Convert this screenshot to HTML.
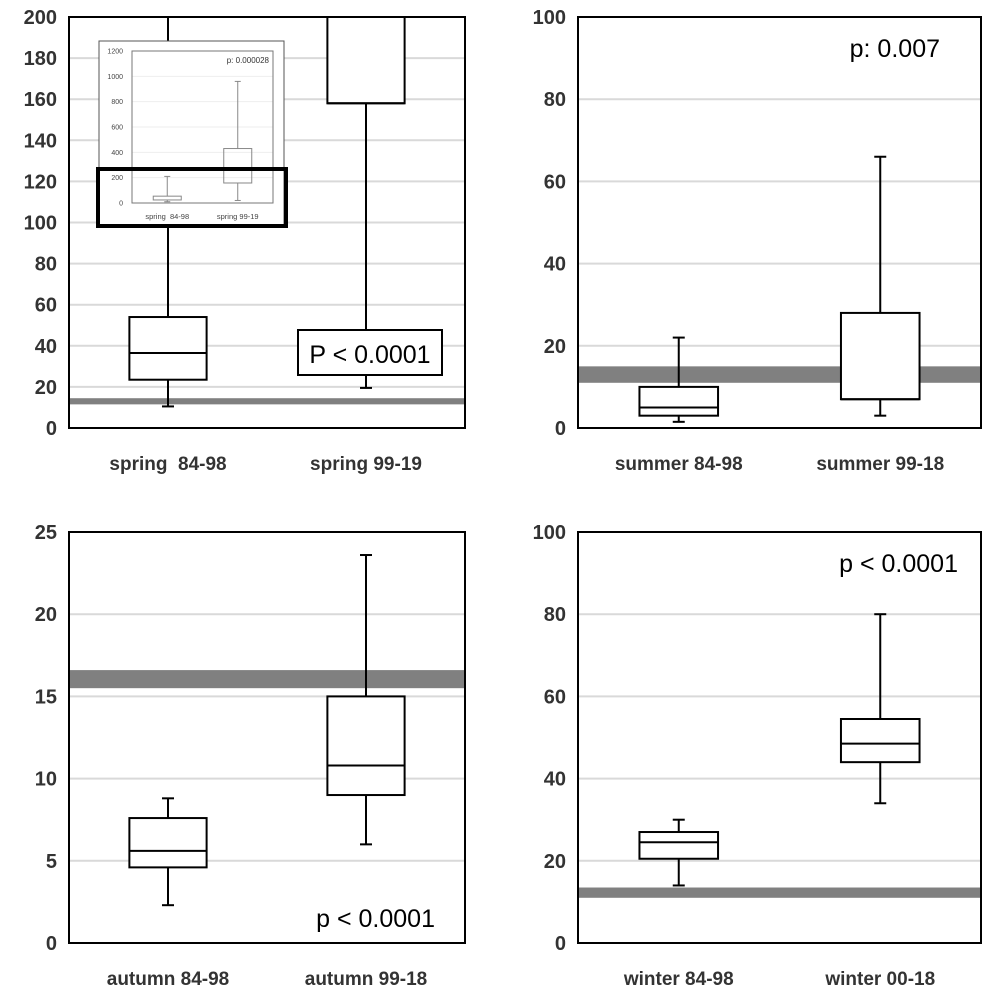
<!DOCTYPE html>
<html><head><meta charset="utf-8"><style>
body{margin:0;background:#fff;}
svg{display:block;font-family:"Liberation Sans",sans-serif;}
</style></head><body>
<svg id="c" width="994" height="994"></svg>
<script>
const panelNames=["spring-panel","summer-panel","autumn-panel","winter-panel"];
const panelCategories=[["spring\u00a0\u00a084-98","spring 99-19"],["summer 84-98","summer 99-18"],["autumn 84-98","autumn 99-18"],["winter 84-98","winter 00-18"]];
const panelMax=[200,100,25,100];
const panelStep=[20,20,5,20];
const mins=[[10.5,19.5],[1.5,3],[2.3,6],[14,34]];
const q1s=[[23.5,158],[3,7],[4.6,9],[20.5,44]];
const medians=[[36.5,158],[5,7],[5.6,10.8],[24.5,48.5]];
const q3s=[[54,260],[10,28],[7.6,15],[27,54.5]];
const maxs=[[260,260],[22,66],[8.8,23.6],[30,80]];
const bandLow=[11.5,11,15.5,11];
const bandHigh=[14.5,15,16.6,13.5];
const pLabels=["P < 0.0001","p: 0.007","p < 0.0001","p < 0.0001"];
const insetCats=["spring\u00a0\u00a084-98","spring 99-19"];
const insetTicks=[0,200,400,600,800,1000,1200];
const insetMin=[10,20],insetQ1=[24,158],insetMed=[37,158],insetQ3=[54,430],insetMax=[210,960];

const svg=document.getElementById('c');
const NS="http://www.w3.org/2000/svg";
function mk(tag,attrs,parent){const e=document.createElementNS(NS,tag);for(const k in attrs)e.setAttribute(k,attrs[k]);(parent||svg).appendChild(e);return e;}
const frames=[[69,465,17,428],[578,981,17,428],[69,465,532,943],[578,981,532,943]];
const pPos=[[370,354,"middle"],[940,48,"end"],[435,918,"end"],[958,563,"end"]];
for(let p=0;p<4;p++){
  const [x0,x1,y0,y1]=frames[p];
  const g=mk('g',{});
  
  
  const y=v=>y1-(Math.min(v,panelMax[p])/panelMax[p])*(y1-y0);
  const cw=(x1-x0)/2;
  const cx=i=>x0+cw*(i+0.5);
  for(let t=0;t<=panelMax[p];t+=panelStep[p]){
    if(t>0&&t<panelMax[p]){const l=mk('line',{x1:x0,x2:x1,y1:y(t),y2:y(t),stroke:'#d9d9d9','stroke-width':2},g);}
    const tx=mk('text',{x:x0-12,y:y(t)+7,'text-anchor':'end','font-size':20,'font-weight':'bold',fill:'#333'},g);
    tx.textContent=t;
  }
  const band=mk('rect',{x:x0,y:y(bandHigh[p]),width:x1-x0,height:y(bandLow[p])-y(bandHigh[p]),fill:'#808080'},g);
  
  for(let i=0;i<2;i++){
    const c=cx(i),bw=cw*0.39;
    const bg=mk('g',{stroke:'#000','stroke-width':2,fill:'none'},g);
    
    mk('line',{x1:c,x2:c,y1:y(maxs[p][i]),y2:y(q3s[p][i])},bg);
    mk('line',{x1:c,x2:c,y1:y(q1s[p][i]),y2:y(mins[p][i])},bg);
    mk('line',{x1:c-6,x2:c+6,y1:y(mins[p][i]),y2:y(mins[p][i])},bg);
    if(maxs[p][i]<panelMax[p])mk('line',{x1:c-6,x2:c+6,y1:y(maxs[p][i]),y2:y(maxs[p][i])},bg);
    mk('rect',{x:c-bw/2,y:y(q3s[p][i]),width:bw,height:y(q1s[p][i])-y(q3s[p][i]),fill:'#fff'},bg);
    mk('line',{x1:c-bw/2,x2:c+bw/2,y1:y(medians[p][i]),y2:y(medians[p][i])},bg);
    const lb=mk('text',{x:c,y:y1+42,'text-anchor':'middle','font-size':19,'font-weight':'bold',fill:'#333'},g);
    lb.textContent=panelCategories[p][i];
  }
  const fr=mk('rect',{x:x0,y:y0,width:x1-x0,height:y1-y0,fill:'none',stroke:'#000','stroke-width':2},g);
  
  if(p===0){const pb=mk('rect',{x:298,y:330,width:144,height:45,fill:'#fff',stroke:'#000','stroke-width':2},g);}
  const pt=mk('text',{x:pPos[p][0],y:pPos[p][1]+9,'text-anchor':pPos[p][2],'font-size':25,fill:'#000'},g);
  pt.textContent=pLabels[p];
}
// inset
const ig=mk('g',{});

mk('rect',{x:99,y:41,width:185,height:186,fill:'#fff',stroke:'#555','stroke-width':1},ig);
const ix0=132,ix1=273,iy0=51,iy1=203;
const iy=v=>iy1-v/1200*(iy1-iy0);
for(const t of insetTicks){
  if(t>0&&t<1200)mk('line',{x1:ix0,x2:ix1,y1:iy(t),y2:iy(t),stroke:'#eee','stroke-width':1},ig);
  const tt=mk('text',{x:ix0-9,y:iy(t)+2.5,'text-anchor':'end','font-size':7,fill:'#444'},ig);
  tt.textContent=t;
}
mk('rect',{x:ix0,y:iy0,width:ix1-ix0,height:iy1-iy0,fill:'none',stroke:'#777','stroke-width':1},ig);
for(let i=0;i<2;i++){
  const c=ix0+(ix1-ix0)/4*(1+2*i),bw=28;
  const s={stroke:'#888','stroke-width':1,fill:'none'};
  mk('line',Object.assign({x1:c,x2:c,y1:iy(insetMax[i]),y2:iy(insetQ3[i])},s),ig);
  mk('line',Object.assign({x1:c,x2:c,y1:iy(insetQ1[i]),y2:iy(insetMin[i])},s),ig);
  mk('line',Object.assign({x1:c-3,x2:c+3,y1:iy(insetMax[i]),y2:iy(insetMax[i])},s),ig);
  mk('line',Object.assign({x1:c-3,x2:c+3,y1:iy(insetMin[i]),y2:iy(insetMin[i])},s),ig);
  mk('rect',Object.assign({x:c-bw/2,y:iy(insetQ3[i]),width:bw,height:iy(insetQ1[i])-iy(insetQ3[i])},s),ig);
  const tl=mk('text',{x:c,y:iy1+16,'text-anchor':'middle','font-size':7.5,fill:'#444'},ig);
  tl.textContent=insetCats[i];
}
const ip=mk('text',{x:ix1-4,y:iy0+12,'text-anchor':'end','font-size':8,fill:'#333'},ig);
ip.textContent="p: 0.000028";
const hl=mk('rect',{x:98,y:169,width:188,height:57,fill:'none',stroke:'#000','stroke-width':4});

</script>
</body></html>
